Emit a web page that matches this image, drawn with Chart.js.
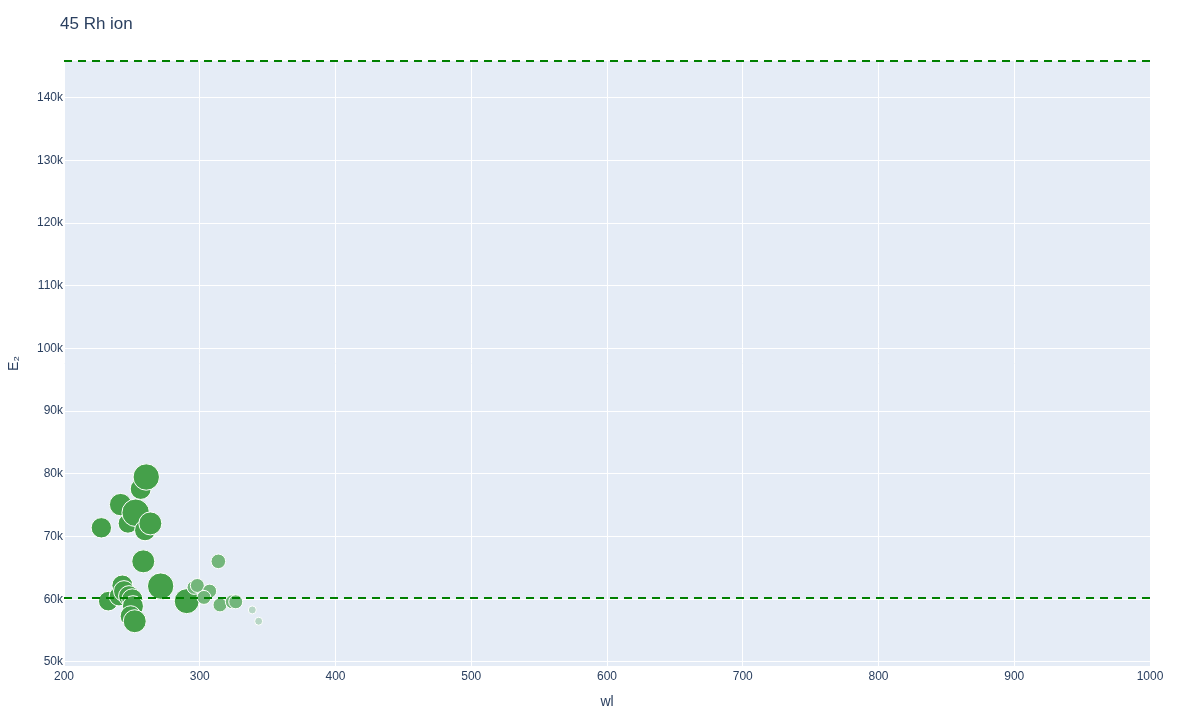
<!DOCTYPE html>
<html>
<head>
<meta charset="utf-8">
<script src="https://cdn.jsdelivr.net/npm/chart.js@4/dist/chart.umd.min.js"></script>
<style>
html,body{margin:0;padding:0;background:#fff;}
#wrap{width:1200px;height:720px;position:relative;}
</style>
</head>
<body>
<div id="wrap"><canvas id="c" width="1200" height="720"></canvas></div>
<script>
const titleText = "45 Rh ion";
const xTitle = "wl";
const yTitle = "E\u2082";

const wl      = [227.5, 256.5, 260.6, 241.7, 247.1, 252.8, 259.7, 263.6, 258.4, 271.2, 290.4, 232.6, 240.5, 243.0, 244.2, 247.9, 250.3, 250.8, 249.1, 252.1, 313.7, 295.8, 298.2, 307.3, 303.1, 314.9, 324.0, 326.5, 338.7, 343.4];
const energy  = [71400, 77600, 79500, 75100, 72100, 73800, 71000, 72100, 66050, 62100, 59700, 59700, 60500, 62200, 61300, 60500, 60000, 58900, 57300, 56500, 66050, 61900, 62200, 61300, 60300, 59100, 59600, 59600, 58300, 56500];
const sizes   = [10.2, 10.5, 13.2, 11.2, 9.8, 13.8, 10.5, 11.5, 11.5, 13.2, 12.5, 9.8, 9.8, 10.5, 10.5, 10.5, 10.5, 10.5, 10.5, 11.5, 7.3, 7, 7, 7, 7, 7, 7, 7, 4, 4];
const opacity = [0.7, 0.7, 0.7, 0.7, 0.7, 0.7, 0.7, 0.7, 0.7, 0.7, 0.7, 0.7, 0.7, 0.7, 0.7, 0.7, 0.7, 0.7, 0.7, 0.7, 0.5, 0.5, 0.5, 0.5, 0.5, 0.5, 0.5, 0.5, 0.2, 0.2];

const levelLines = [145850, 60200];
const xRange = [200, 1000];
const yRange = [49360, 145850];
const xTicks = [200, 300, 400, 500, 600, 700, 800, 900, 1000];
const yTicks = [50000, 60000, 70000, 80000, 90000, 100000, 110000, 120000, 130000, 140000];

const FONT = '"Liberation Sans", Arial, sans-serif';

// marker colour green blended over the plot background by its opacity (rendered opaque)
const blend = (o) => {
  const g = [0, 128, 0], bg = [229, 236, 246];
  const c = g.map((v, k) => Math.round(o * v + (1 - o) * bg[k]));
  return `rgb(${c[0]},${c[1]},${c[2]})`;
};

const points = wl.map((x, i) => ({x: x, y: energy[i], r: sizes[i]}));
const fills = opacity.map(blend);

const lineSets = levelLines.map(v => ({
  type: 'line',
  data: [{x: xRange[0], y: v}, {x: xRange[1], y: v}],
  borderColor: '#008000',
  borderWidth: 2,
  borderDash: [8, 6],
  pointRadius: 0,
  fill: false,
  clip: false,
  order: 0
}));

const bgPlugin = {
  id: 'bg',
  beforeDraw(chart) {
    const {ctx, chartArea: a} = chart;
    ctx.save();
    ctx.fillStyle = '#fff';
    ctx.fillRect(0, 0, chart.width, chart.height);
    ctx.fillStyle = '#E5ECF6';
    ctx.fillRect(a.left, a.top, a.right - a.left, a.bottom - a.top);
    ctx.restore();
  },
  afterDraw(chart) {
    const ctx = chart.ctx;
    ctx.save();
    ctx.fillStyle = '#2a3f5f';
    ctx.font = '17px ' + FONT;
    ctx.textBaseline = 'middle';
    ctx.textAlign = 'left';
    ctx.fillText(titleText, 60, 24);
    ctx.restore();
  }
};

new Chart(document.getElementById('c'), {
  type: 'bubble',
  data: {
    datasets: [
      {
        type: 'bubble',
        data: points,
        backgroundColor: fills,
        borderColor: '#ffffff',
        borderWidth: 1,
        hoverBorderWidth: 1,
        order: 1
      },
      ...lineSets
    ]
  },
  options: {
    responsive: false,
    animation: false,
    devicePixelRatio: 1,
    layout: {padding: {top: 61, right: 50, bottom: 0, left: 0}},
    plugins: {legend: {display: false}, tooltip: {enabled: false}, title: {display: false}},
    scales: {
      x: {
        type: 'linear',
        min: xRange[0], max: xRange[1],
        afterBuildTicks: s => { s.ticks = xTicks.map(v => ({value: v})); },
        afterFit: s => { s.height = 54; },
        grid: {color: '#ffffff', lineWidth: 1, drawTicks: false},
        border: {display: false},
        ticks: {
          color: '#2a3f5f', padding: 3, maxRotation: 0,
          font: {family: FONT, size: 12},
          callback: v => String(v)
        },
        title: {
          display: true, text: xTitle, color: '#2a3f5f', padding: {top: 0, bottom: 9},
          font: {family: FONT, size: 14}
        }
      },
      y: {
        type: 'linear',
        min: yRange[0], max: yRange[1],
        afterBuildTicks: s => { s.ticks = yTicks.map(v => ({value: v})); },
        afterFit: s => { s.width = 64; },
        grid: {color: '#ffffff', lineWidth: 1, drawTicks: false},
        border: {display: false},
        ticks: {
          color: '#2a3f5f', padding: 1,
          font: {family: FONT, size: 12},
          callback: v => (v / 1000) + 'k'
        },
        title: {
          display: true, text: yTitle, color: '#2a3f5f', padding: {top: 6, bottom: 0},
          font: {family: FONT, size: 14}
        }
      }
    }
  },
  plugins: [bgPlugin]
});
</script>
</body>
</html>
